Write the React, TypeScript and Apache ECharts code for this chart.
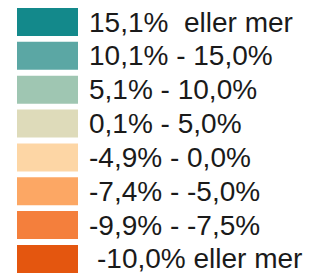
import React, { useEffect, useRef } from "react";
import * as echarts from "echarts";

const categories = [
  "15,1%  eller mer",
  "10,1% - 15,0%",
  "5,1% - 10,0%",
  "0,1% - 5,0%",
  "-4,9% - 0,0%",
  "-7,4% - -5,0%",
  "-9,9% - -7,5%",
  "-10,0% eller mer",
];

const colors = [
  "#13898b",
  "#5ba7a4",
  "#9fc6b2",
  "#dedbba",
  "#fdd6a5",
  "#fca764",
  "#f47f3c",
  "#e4560f",
];

export default function App() {
  const ref = useRef<HTMLDivElement>(null);
  useEffect(() => {
    if (!ref.current) return;
    const chart = echarts.init(ref.current, null, { renderer: "svg" });
    chart.setOption({
      animation: false,
      backgroundColor: "#ffffff",
      grid: { left: 0, right: 0, top: 0, bottom: 0, show: false },
      xAxis: { type: "value", show: false },
      yAxis: { type: "category", show: false, data: ["a"] },
      legend: {
        orient: "vertical",
        left: 17,
        top: 8,
        padding: 0,
        itemWidth: 61,
        itemHeight: 28,
        itemGap: 5.85,
        icon: "rect",
        selectedMode: false,
        data: categories.map((name, i) => ({
          name,
          textStyle: { padding: [0, 0, 2, i === categories.length - 1 ? 14 : 6] },
        })),
        textStyle: {
          fontFamily: "Liberation Sans, Arial, sans-serif",
          fontSize: 28,
          lineHeight: 26,
          color: "#1a1a1a",
        },
      },
      series: categories.map((name, i) => ({
        type: "bar",
        name,
        data: [],
        itemStyle: { color: colors[i] },
      })),
    });
    return () => chart.dispose();
  }, []);
  return (
    <div
      ref={ref}
      style={{ position: "fixed", left: 0, top: 0, width: 314, height: 300 }}
    />
  );
}
